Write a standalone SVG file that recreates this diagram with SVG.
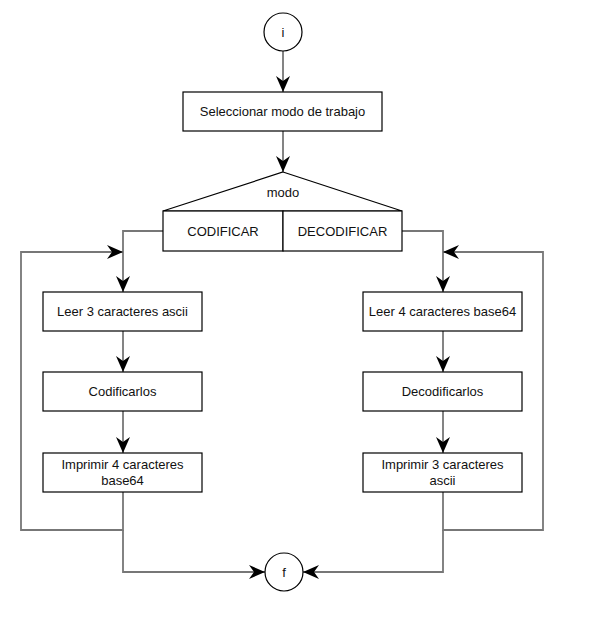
<svg xmlns="http://www.w3.org/2000/svg" width="590" height="622" viewBox="0 0 590 622">
<style>
.box{fill:#fff;stroke:#000;stroke-width:1.2}
.t{font-family:"Liberation Sans",Arial,sans-serif;font-size:13px;fill:#111;text-anchor:middle;dominant-baseline:central}
.c{fill:none;stroke:#777;stroke-width:1.8}
</style>
<defs>
<marker id="a" markerUnits="userSpaceOnUse" markerWidth="16" markerHeight="14" refX="16" refY="7" orient="auto" viewBox="0 0 16 14">
<path d="M0,0 L16,7 L0,14 L5,7 Z" fill="#000"/>
</marker>
</defs>
<rect width="590" height="622" fill="#fff"/>
<g id="connectors">
<path class="c" d="M283,51 V92" marker-end="url(#a)"/>
<path class="c" d="M283,131 V172" marker-end="url(#a)"/>
<path class="c" d="M163,231 H123 V292" marker-end="url(#a)"/>
<path class="c" d="M402,231 H443 V292" marker-end="url(#a)"/>
<path class="c" d="M123,331 V372" marker-end="url(#a)"/>
<path class="c" d="M123,411 V453" marker-end="url(#a)"/>
<path class="c" d="M443,331 V372" marker-end="url(#a)"/>
<path class="c" d="M443,411 V453" marker-end="url(#a)"/>
<path class="c" d="M123,492 V530 H21 V252 H123" marker-end="url(#a)"/>
<path class="c" d="M443,492 V530 H543 V252 H443" marker-end="url(#a)"/>
<path class="c" d="M123,530 V572 H265" marker-end="url(#a)"/>
<path class="c" d="M443,530 V572 H303" marker-end="url(#a)"/>
</g>
<g id="start"><circle class="box" cx="283" cy="32" r="19"/><text class="t" x="283" y="32">i</text></g>
<g id="select"><rect class="box" x="183" y="92" width="199" height="39"/><text class="t" x="282.5" y="111.5">Seleccionar modo de trabajo</text></g>
<g id="modo">
<polygon class="box" points="283,172 402,211 163,211"/>
<text class="t" x="283" y="192">modo</text>
<rect class="box" x="163" y="211" width="120" height="40"/>
<text class="t" x="223" y="231">CODIFICAR</text>
<rect class="box" x="283" y="211" width="119" height="40"/>
<text class="t" x="342.5" y="231">DECODIFICAR</text>
</g>
<g id="leer3"><rect class="box" x="43" y="292" width="159" height="39"/><text class="t" x="122.5" y="311.5">Leer 3 caracteres ascii</text></g>
<g id="codificar"><rect class="box" x="43" y="372" width="159" height="39"/><text class="t" x="122.5" y="391.5">Codificarlos</text></g>
<g id="imprimir4"><rect class="box" x="43" y="453" width="159" height="39"/><text class="t" x="122.5" y="464">Imprimir 4 caracteres</text><text class="t" x="122.5" y="480">base64</text></g>
<g id="leer4"><rect class="box" x="363" y="292" width="159" height="39"/><text class="t" x="442.5" y="311.5">Leer 4 caracteres base64</text></g>
<g id="decodificar"><rect class="box" x="363" y="372" width="159" height="39"/><text class="t" x="442.5" y="391.5">Decodificarlos</text></g>
<g id="imprimir3"><rect class="box" x="363" y="453" width="159" height="39"/><text class="t" x="442.5" y="464">Imprimir 3 caracteres</text><text class="t" x="442.5" y="480">ascii</text></g>
<g id="end"><circle class="box" cx="284" cy="572" r="19"/><text class="t" x="284" y="572">f</text></g>
</svg>
